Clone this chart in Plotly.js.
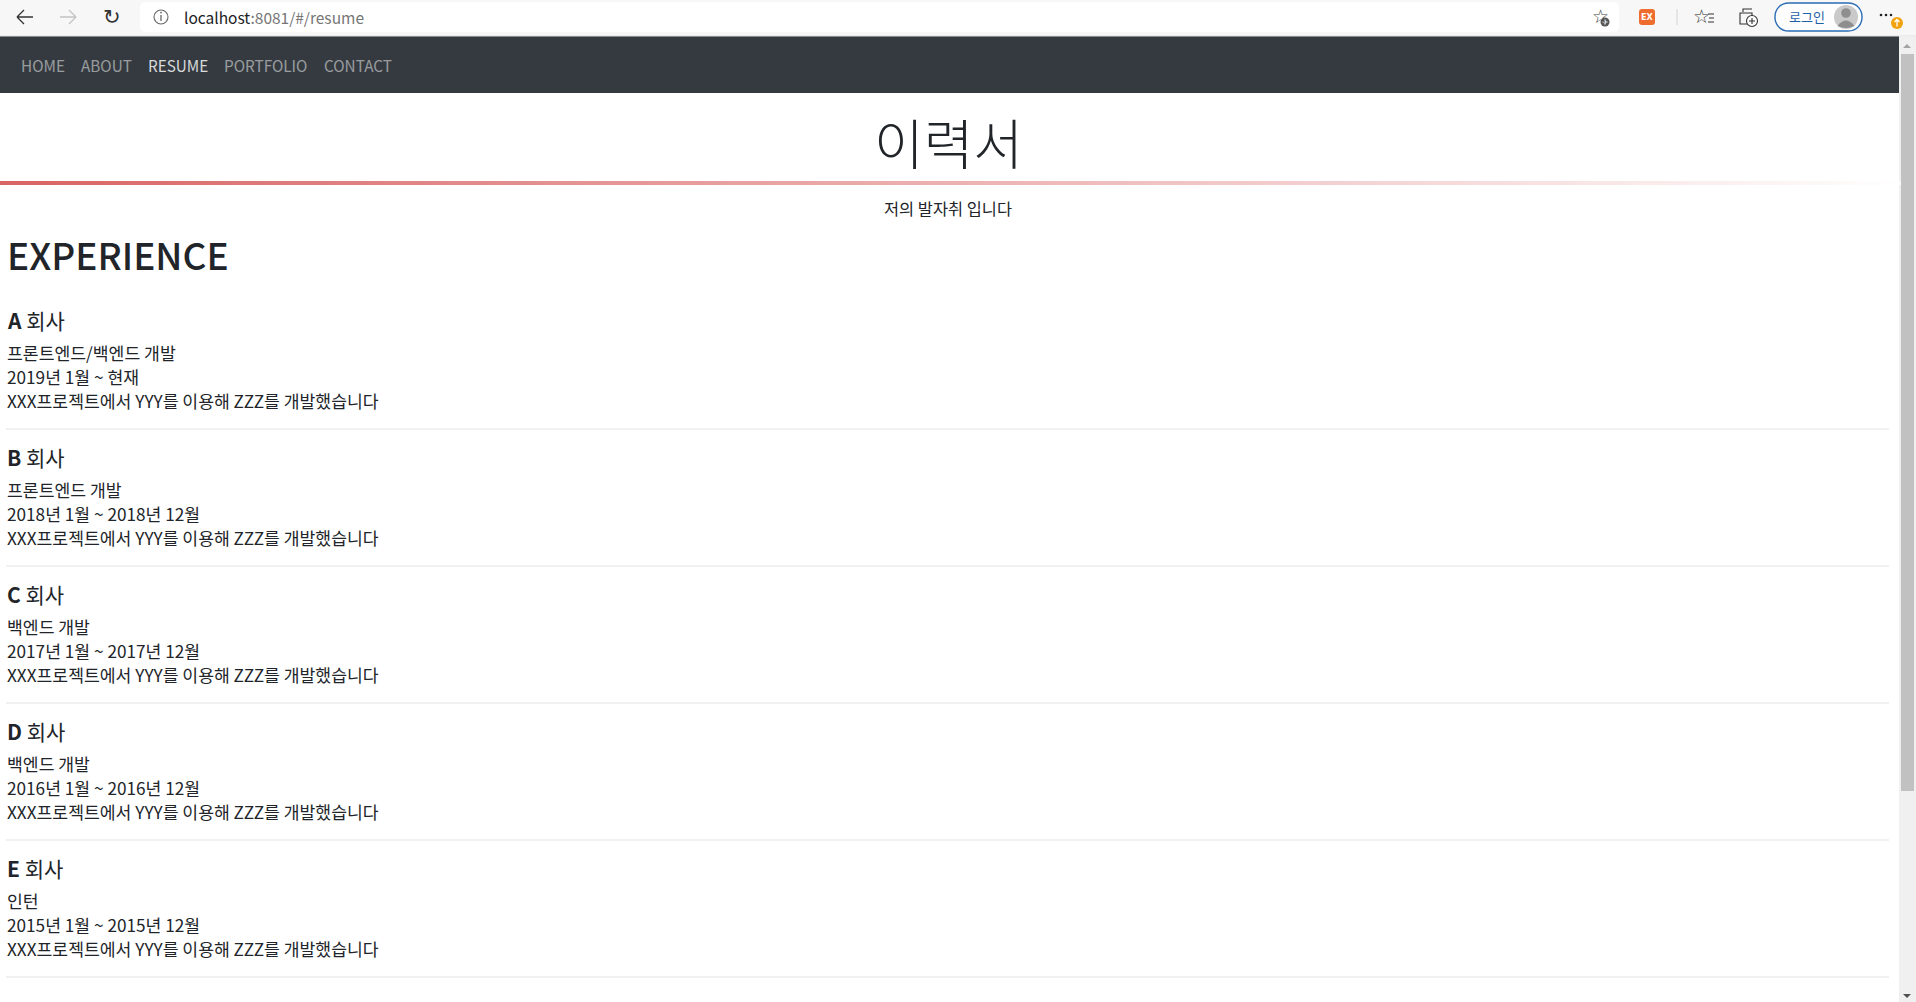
<!DOCTYPE html>
<html>
<head>
<meta charset="utf-8">
<script src="https://cdn.plot.ly/plotly-3.0.1.min.js"></script>
<style>
  html, body { margin: 0; padding: 0; background: #fff; overflow: hidden; }
  #page { width: 1916px; height: 1002px; }
</style>
</head>
<body>
<div id="page"></div>
<script>
// page content
var navItems = ['HOME', 'ABOUT', 'RESUME', 'PORTFOLIO', 'CONTACT'];
var activeNav = 'RESUME';
var urlHost = 'localhost';
var urlRest = ':8081/#/resume';
var loginLabel = '로그인';
var pageTitle = '이력서';
var pageSubtitle = '저의 발자취 입니다';
var sectionTitle = 'EXPERIENCE';
var companyWord = '회사';
var companies = ['A', 'B', 'C', 'D', 'E'];
var roles = ['프론트엔드/백엔드 개발', '프론트엔드 개발', '백엔드 개발', '백엔드 개발', '인턴'];
var periods = ['2019년 1월 ~ 현재', '2018년 1월 ~ 2018년 12월', '2017년 1월 ~ 2017년 12월',
               '2016년 1월 ~ 2016년 12월', '2015년 1월 ~ 2015년 12월'];
var details = ['XXX프로젝트에서 YYY를 이용해 ZZZ를 개발했습니다',
               'XXX프로젝트에서 YYY를 이용해 ZZZ를 개발했습니다',
               'XXX프로젝트에서 YYY를 이용해 ZZZ를 개발했습니다',
               'XXX프로젝트에서 YYY를 이용해 ZZZ를 개발했습니다',
               'XXX프로젝트에서 YYY를 이용해 ZZZ를 개발했습니다'];

var W = 1916, H = 1002;
var FONT = '"Noto Sans CJK KR", "Noto Sans", sans-serif';
var SYM = '"DejaVu Sans", sans-serif';
var TEXT = '#212529';

var shapes = [];
var annotations = [];

function rect(x0, y0, x1, y1, fill, line) {
    shapes.push({type: 'rect', xref: 'x', yref: 'y', x0: x0, y0: y0, x1: x1, y1: y1,
        fillcolor: fill, line: line || {width: 0}, layer: 'below'});
}
function path(d, fill, line) {
    shapes.push({type: 'path', xref: 'x', yref: 'y', path: d,
        fillcolor: fill || 'rgba(0,0,0,0)', line: line || {width: 0}});
}
function circle(cx, cy, r, fill, line) {
    shapes.push({type: 'circle', xref: 'x', yref: 'y', x0: cx - r, y0: cy - r, x1: cx + r, y1: cy + r,
        fillcolor: fill, line: line || {width: 0}});
}
function text(x, y, t, size, color, opts) {
    opts = opts || {};
    annotations.push({xref: 'x', yref: 'y', x: x, y: y, text: t, showarrow: false,
        xanchor: opts.anchor || 'left', yanchor: 'middle', borderpad: 0,
        font: {family: opts.family || FONT, size: size, color: color, weight: opts.weight || 400}});
}

var ctx = document.createElement('canvas').getContext('2d');
function measure(t, size) {
    ctx.font = size + 'px ' + FONT;
    return ctx.measureText(t).width;
}

// ---- browser toolbar ----
rect(0, 0, W, 36, '#f7f7f7');
shapes.push({type: 'line', xref: 'x', yref: 'y', x0: 0, x1: W, y0: 36, y1: 36, line: {color: '#dedede', width: 1}});
// back / forward
path('M17,17 L33,17 M17,17 L24,10 M17,17 L24,24', null, {color: '#333', width: 1.3});
path('M76,17 L60,17 M76,17 L69,10 M76,17 L69,24', null, {color: '#c4c4c4', width: 1.3});
text(112, 17, '↻', 21, '#333', {anchor: 'center', family: SYM});
// address box
path('M146,2 L1613,2 Q1619,2 1619,8 L1619,26 Q1619,32 1613,32 L146,32 Q140,32 140,26 L140,8 Q140,2 146,2 Z', '#ffffff');
circle(161, 17, 7, 'rgba(0,0,0,0)', {color: '#666', width: 1.1});
path('M161,15 L161,21', null, {color: '#666', width: 1.3});
circle(161, 12.6, 0.9, '#666');
text(183, 17, '<span style="color:#202124">' + urlHost + '</span><span style="color:#767676">' + urlRest + '</span>', 15.5, '#202124');
text(1600, 16, '☆', 19, '#444', {anchor: 'center', family: SYM});
circle(1605, 22, 4.5, '#555');
path('M1605,19.5 L1605,24.5 M1602.5,22 L1607.5,22', null, {color: '#fff', width: 1.2});
// extension icon
path('M1642,9 L1652,9 Q1655,9 1655,12 L1655,22 Q1655,25 1652,25 L1642,25 Q1639,25 1639,22 L1639,12 Q1639,9 1642,9 Z', '#ef6c2f');
text(1647, 17, 'EX', 8, '#fff', {anchor: 'center', family: SYM, weight: 700});
shapes.push({type: 'line', xref: 'x', yref: 'y', x0: 1677, x1: 1677, y0: 9, y1: 25, line: {color: '#d4d4d4', width: 1}});
// favourites
text(1701, 16, '☆', 19, '#333', {anchor: 'center', family: SYM});
path('M1708,14 L1714,14 M1709,18 L1714,18 M1708,22 L1714,22', null, {color: '#333', width: 1});
// collections
path('M1743,12 L1743,9 L1752,9 M1740,13 L1740,24 L1752,24 L1752,13 Z', null, {color: '#333', width: 1.1});
circle(1752, 21, 5.5, '#fff', {color: '#333', width: 1.1});
path('M1752,18 L1752,24 M1749,21 L1755,21', null, {color: '#333', width: 1.1});
// login pill
path('M1789,3 L1848,3 C1866.7,3 1866.7,31 1848,31 L1789,31 C1770.3,31 1770.3,3 1789,3 Z', '#fdfdfd', {color: '#2a6cb6', width: 1.4});
text(1807, 16, loginLabel, 13, '#1f5fa8', {anchor: 'center'});
circle(1846, 17, 12, '#c9c9c9');
circle(1846, 13, 4.8, '#8e8e8e');
path('M1837.5,26 Q1846,15 1854.5,26 Q1846,30 1837.5,26 Z', '#8e8e8e');
// settings dots + update badge
circle(1881, 15, 1.3, '#222');
circle(1886, 15, 1.3, '#222');
circle(1891, 15, 1.3, '#222');
circle(1897, 23, 6, '#f2a20c');
path('M1897,26.5 L1897,19.5 M1894.5,22 L1897,19.5 L1899.5,22', null, {color: '#fff', width: 1.3});

// ---- navbar ----
rect(0, 36, 1899, 93, '#343a40');
var navSize = 15.3, navX = 20;
navItems.forEach(function(item) {
    var on = item === activeNav;
    text(navX, 65, item, navSize, on ? 'rgba(255,255,255,0.82)' : 'rgba(255,255,255,0.5)');
    navX += measure(item, navSize) + 16;
});

// ---- header ----
text(948, 141, pageTitle, 54, TEXT, {anchor: 'center', weight: 300});
var steps = 190;
for (var s = 0; s < steps; s++) {
    var f = s / steps;
    var r = Math.round(217 + (255 - 217) * f), g = Math.round(100 + (255 - 100) * f);
    shapes.push({type: 'rect', xref: 'x', yref: 'y', x0: s * 10, x1: s * 10 + 10.5, y0: 181, y1: 185,
        fillcolor: 'rgb(' + r + ',' + g + ',' + g + ')', line: {width: 0}});
}
text(948, 207.5, pageSubtitle, 16.4, TEXT, {anchor: 'center'});

// ---- experience list ----
text(6, 254, sectionTitle, 37, TEXT, {weight: 500});
var hrFirst = 429, blockGap = 137;
companies.forEach(function(c, i) {
    var hr = hrFirst + i * blockGap;
    text(6, hr - 109.5, '<span style="font-weight:600">' + c + '</span> ' + companyWord, 21, TEXT);
    text(6, hr - 77, roles[i], 17.2, TEXT);
    text(6, hr - 53, periods[i], 17.2, TEXT);
    text(6, hr - 29, details[i], 17.2, TEXT);
    shapes.push({type: 'line', xref: 'x', yref: 'y', x0: 6, x1: 1889, y0: hr, y1: hr,
        line: {color: '#e3e3e3', width: 1}});
});

// ---- scrollbar ----
rect(1899, 37, W, H, '#f0f0f0');
rect(1901, 54, 1914, 791, '#c1c1c1');
path('M1903,48 L1911,48 L1907,44 Z', '#a3a3a3');
path('M1903,994 L1911,994 L1907,998 Z', '#505050');

var layout = {
    width: W, height: H,
    margin: {l: 0, r: 0, t: 0, b: 0, pad: 0},
    paper_bgcolor: '#ffffff', plot_bgcolor: '#ffffff',
    xaxis: {range: [0, W], visible: false, fixedrange: true},
    yaxis: {range: [H, 0], visible: false, fixedrange: true},
    showlegend: false, hovermode: false,
    shapes: shapes, annotations: annotations
};

Plotly.newPlot('page', [], layout, {displayModeBar: false, staticPlot: true});
</script>
</body>
</html>
